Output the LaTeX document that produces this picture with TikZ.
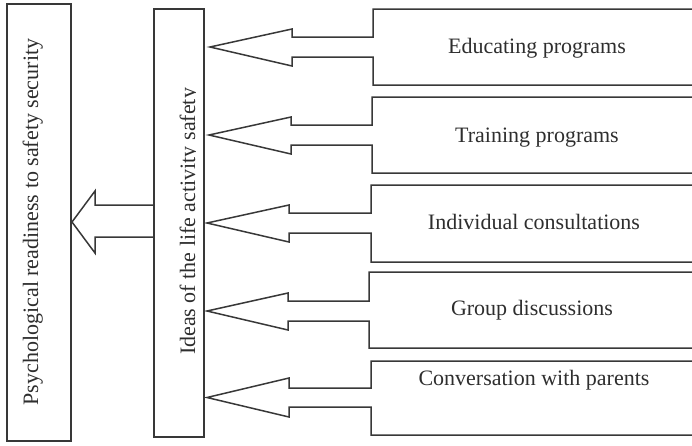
\documentclass[tikz,border=0pt]{standalone}
\usepackage{fontspec}
\setmainfont{Liberation Serif}
\definecolor{ln}{gray}{0.22}
\definecolor{tx}{gray}{0.18}
\begin{document}
\begin{tikzpicture}[x=1pt,y=-1pt,
  shape line/.style={draw=ln,line width=1.5pt,line join=miter},
  lbl/.style={inner sep=0pt,text=tx,font=\fontsize{22}{26}\selectfont}]
\useasboundingbox (0,0) rectangle (692,445);
% left and middle boxes
\draw[shape line] (7,4) rectangle (71,441);
\draw[shape line] (154,9) rectangle (204,437);
\node[lbl,rotate=90,anchor=base] (psy) at (38,222) {Psychological readiness to safety security};
\begin{scope}
\clip (155,10) rectangle (195.5,436);
\node[lbl,rotate=90,anchor=base] (ideas) at (195,221.5) {Ideas of the life activity safety};
\end{scope}
% big arrow from middle box to left box
\draw[shape line] (154,205) -- (95,205) -- (95,191) -- (72,222) -- (95,253) -- (95,237) -- (154,237);
% right box-arrows: top, shaft upper, shaft lower, bottom, box left, shaft left, tip x, barb up, barb down
\foreach \t/\su/\sl/\b/\bl/\sh/\tip/\bu/\bd in {
  9/37/57/85/373/292/210/29/66,
  97/125/145/173/372/291/209/117/154,
  185/213/233/262/371/289/207/205/242,
  272/301/321/348/369/288/207/293/330,
  361/388/407/435/371/289/207/378/417}{
  \pgfmathsetmacro{\my}{(\su+\sl)/2}
  \draw[shape line] (693,\t) -- (\bl,\t) -- (\bl,\su) -- (\sh,\su) -- (\sh,\bu) -- (\tip,\my)
     -- (\sh,\bd) -- (\sh,\sl) -- (\bl,\sl) -- (\bl,\b) -- (693,\b);
}
\node[lbl,anchor=base] (edu) at (537,53) {Educating programs};
\node[lbl,anchor=base] (train) at (537,142) {Training programs};
\node[lbl,anchor=base] (indiv) at (534,229) {Individual consultations};
\node[lbl,anchor=base] (group) at (532,315) {Group discussions};
\node[lbl,anchor=base] (conv) at (534,385) {Conversation with parents};
\end{tikzpicture}
\end{document}
